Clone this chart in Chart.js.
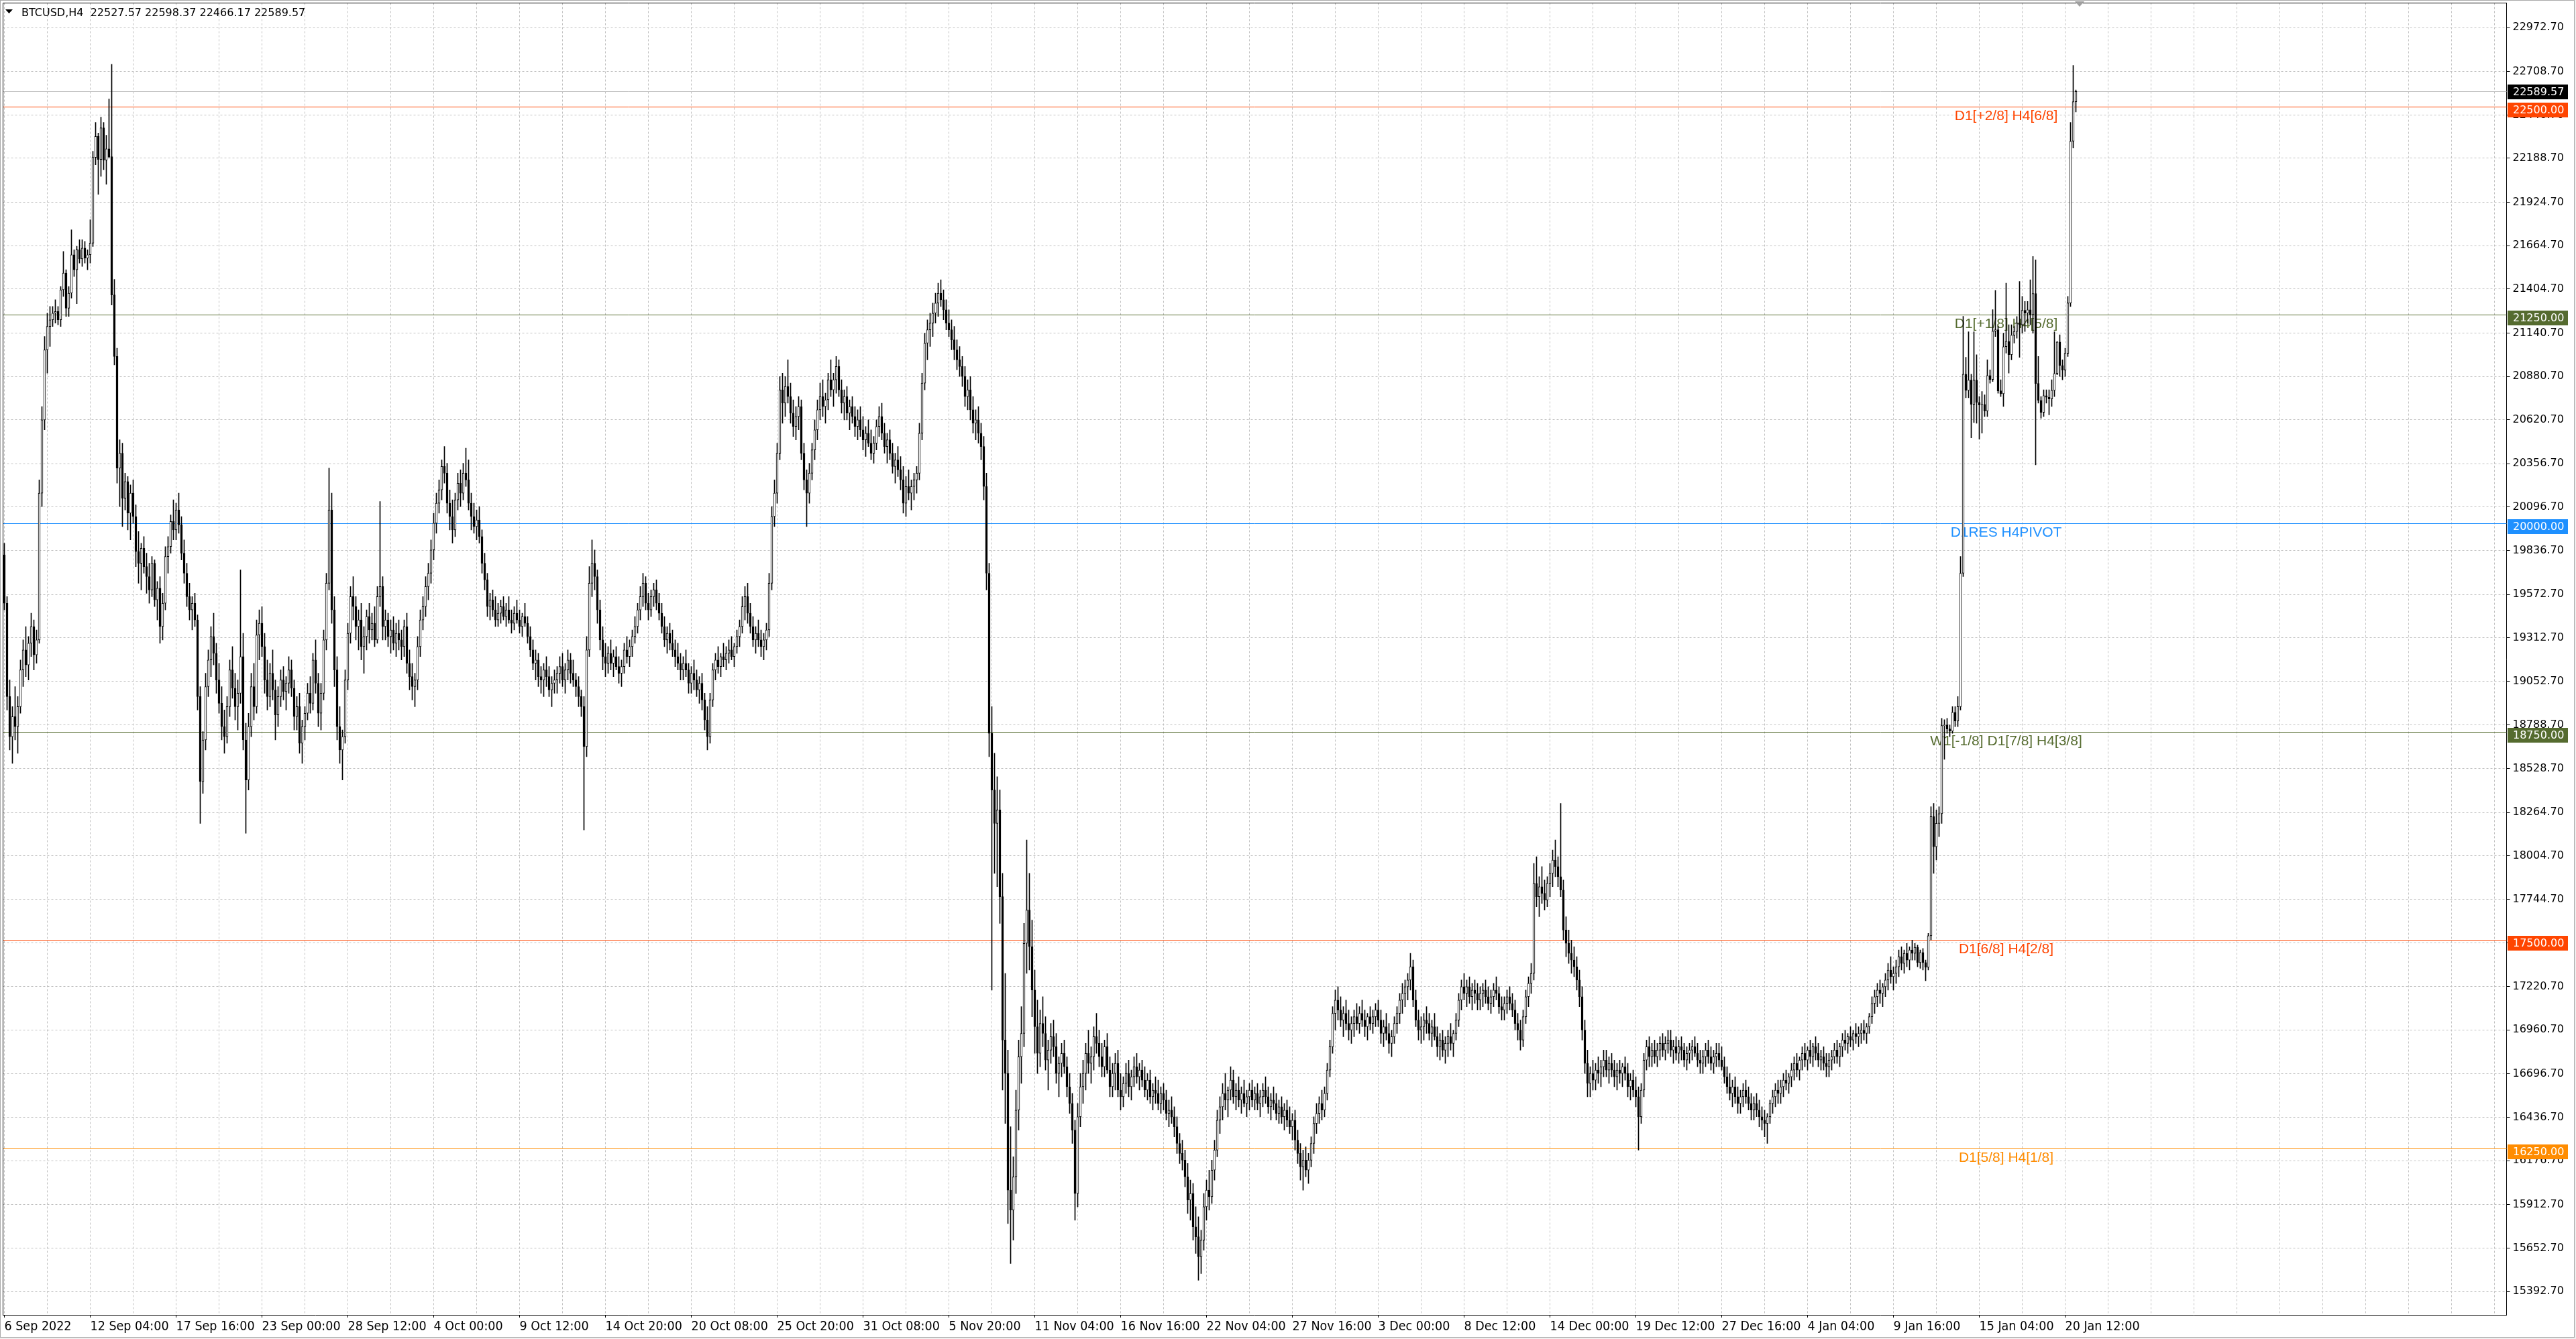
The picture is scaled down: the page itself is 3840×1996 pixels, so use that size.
<!DOCTYPE html>
<html><head><meta charset="utf-8">
<script src="https://cdn.jsdelivr.net/npm/chart.js@4.4.0/dist/chart.umd.min.js"></script>
<style>html,body{margin:0;padding:0;background:#fff;overflow:hidden}canvas{display:block}</style>
</head><body>
<canvas id="c" width="3840" height="1996"></canvas>
<script>
// ---- DATA (BTCUSD H4) ----
const dateLabels = ['6 Sep 2022','12 Sep 04:00','17 Sep 16:00','23 Sep 00:00','28 Sep 12:00','4 Oct 00:00','9 Oct 12:00','14 Oct 20:00','20 Oct 08:00','25 Oct 20:00','31 Oct 08:00','5 Nov 20:00','11 Nov 04:00','16 Nov 16:00','22 Nov 04:00','27 Nov 16:00','3 Dec 00:00','8 Dec 12:00','14 Dec 00:00','19 Dec 12:00','27 Dec 16:00','4 Jan 04:00','9 Jan 16:00','15 Jan 04:00','20 Jan 12:00'];
const priceTicks = [22972.70,22708.70,22448.70,22188.70,21924.70,21664.70,21404.70,21140.70,20880.70,20620.70,20356.70,20096.70,19836.70,19572.70,19312.70,19052.70,18788.70,18528.70,18264.70,18004.70,17744.70,17484.70,17220.70,16960.70,16696.70,16436.70,16176.70,15912.70,15652.70,15392.70];
const levelValues = [22500, 21250, 20000, 18750, 17500, 16250];
const levelTexts = ['D1[+2/8] H4[6/8]','D1[+1/8] H4[5/8]','D1RES H4PIVOT','W1[-1/8] D1[7/8] H4[3/8]','D1[6/8] H4[2/8]','D1[5/8] H4[1/8]'];
const levelColors = ['#ff4500','#556b2f','#1e90ff','#556b2f','#ff4500','#ff8c00'];
const lastBid = 22589.57;
const titleText = 'BTCUSD,H4  22527.57 22598.37 22466.17 22589.57';

const opens = [
19810,19520,18960,18720,18840,18780,18900,19120,19240,19150,
19280,19380,19210,19300,20180,20620,21040,21180,21220,21260,
21270,21220,21400,21500,21290,21380,21610,21520,21640,21585,
21650,21590,21610,21680,22194,22320,22182,22371,22178,22246,
22198,21369,21000,20330,20420,20150,20250,20060,20180,20040,
19830,19760,19850,19740,19680,19600,19760,19540,19610,19380,
19520,19800,19860,20010,19960,20080,19990,19820,19700,19560,
19480,19520,19420,18960,18450,18700,19020,19180,19320,19220,
19060,18920,18780,18720,18900,19120,19010,18900,18980,19200,
18700,18460,18780,19020,18900,19330,19400,19260,19060,18960,
19100,19000,18850,18960,19060,18990,19040,19120,19010,18840,
18900,18680,18780,18860,18980,18920,19180,19040,18860,18980,
19300,19640,20080,19480,19120,18780,18640,18720,19060,19340,
19560,19500,19380,19420,19260,19320,19440,19360,19400,19300,
19560,19620,19380,19420,19320,19360,19280,19340,19300,19260,
19380,19160,19080,19020,19060,19260,19420,19500,19620,19700,
19840,20000,20120,20200,20340,20300,20120,20040,19960,20140,
20240,20180,20300,20260,20120,20040,19980,20020,19920,19760,
19660,19500,19540,19480,19420,19460,19500,19440,19480,19420,
19400,19460,19420,19380,19440,19400,19320,19240,19160,19180,
19080,19060,19120,19080,19000,19040,19060,19100,19140,19060,
19120,19180,19100,19060,19020,18960,18900,18660,19240,19640,
19760,19680,19480,19300,19200,19160,19220,19160,19200,19140,
19100,19140,19240,19200,19260,19320,19380,19480,19560,19640,
19520,19480,19560,19600,19520,19460,19380,19300,19340,19280,
19240,19200,19160,19120,19160,19120,19040,19100,19060,19000,
19040,18940,18820,18720,18940,19120,19180,19140,19200,19180,
19220,19240,19200,19260,19320,19380,19500,19560,19460,19380,
19300,19340,19300,19260,19300,19360,19640,20040,20180,20420,
20800,20720,20820,20760,20660,20580,20640,20700,20420,20260,
20180,20300,20440,20560,20680,20760,20700,20740,20860,20800,
20860,20940,20800,20720,20760,20660,20700,20640,20580,20620,
20560,20500,20540,20480,20420,20480,20580,20640,20540,20460,
20500,20420,20340,20380,20320,20260,20120,20220,20180,20220,
20260,20300,20540,20840,21080,21160,21200,21260,21320,21380,
21340,21280,21200,21160,21100,21040,20980,20940,20880,20760,
20800,20680,20600,20620,20540,20460,20220,19700,18740,18400,
18200,18280,17760,16900,16700,16000,15880,16080,16480,16800,
16940,17480,17680,17460,17200,16980,16820,17000,16940,16780,
16840,16920,16860,16700,16760,16820,16740,16620,16520,16360,
15980,16440,16620,16700,16820,16760,16800,16920,16880,16800,
16740,16860,16720,16620,16700,16760,16600,16560,16640,16700,
16620,16680,16740,16680,16720,16660,16600,16660,16560,16600,
16580,16520,16580,16540,16460,16480,16440,16380,16280,16220,
16180,16080,15940,15980,15780,15720,15600,15700,15900,16000,
15960,16120,16240,16420,16500,16580,16540,16600,16660,16560,
16600,16540,16580,16520,16560,16600,16540,16580,16520,16560,
16600,16560,16500,16540,16520,16460,16500,16440,16480,16420,
16380,16420,16300,16220,16140,16180,16120,16180,16280,16400,
16460,16520,16480,16580,16720,16860,17060,17140,17080,17020,
17060,17000,16960,17000,17040,17000,17060,17020,16980,17040,
17000,17040,17080,17020,16940,16980,16940,16880,16920,17000,
17060,17140,17180,17220,17260,17340,17140,17020,16960,16980,
17020,17000,16940,16980,16920,16860,16900,16840,16880,16920,
16880,16940,17020,17140,17220,17180,17220,17160,17200,17180,
17140,17180,17200,17160,17120,17160,17200,17180,17100,17080,
17120,17160,17120,17080,17000,16960,16900,17040,17160,17240,
17300,17840,17760,17820,17780,17740,17840,17900,17980,17940,
17880,17800,17560,17480,17420,17380,17340,17260,17160,16960,
16760,16640,16700,16660,16720,16700,16740,16780,16720,16760,
16720,16680,16720,16700,16740,16700,16620,16660,16600,16560,
16440,16600,16780,16860,16800,16840,16800,16840,16880,16840,
16880,16900,16840,16860,16820,16860,16840,16780,16820,16840,
16860,16820,16780,16760,16800,16840,16800,16760,16800,16820,
16780,16740,16680,16620,16580,16620,16560,16520,16560,16600,
16560,16520,16480,16520,16480,16440,16420,16400,16440,16520,
16560,16600,16580,16620,16660,16640,16680,16720,16760,16720,
16780,16820,16780,16840,16800,16860,16820,16780,16800,16760,
16740,16780,16800,16840,16800,16860,16900,16880,16920,16900,
16940,16920,16940,16960,16940,16980,17040,17120,17160,17200,
17180,17220,17260,17320,17280,17300,17340,17400,17360,17420,
17380,17440,17420,17457,17365,17425,17365,17337,17526,18240,
18060,18200,18258,18786,18790,18766,18753,18866,18813,18900,
19700,20894,20797,20858,20713,20858,20725,20709,20713,20673,
20886,20862,21152,21160,20794,20777,21059,21091,21011,21128,
21150,21200,21190,21277,21260,21280,21250,21377,20838,20737,
20665,20765,20755,20745,20797,20898,21087,20946,20918,21019,
21321,22291,22527.57];

const highs = [
19880,19560,19060,18900,19020,18960,19180,19300,19380,19320,
19460,19420,19360,20260,20700,21120,21260,21300,21300,21340,
21300,21420,21630,21520,21420,21760,21640,21660,21700,21700,
21690,21640,21820,22230,22403,22340,22436,22403,22327,22544,
22753,21462,21050,20500,20480,20300,20280,20230,20260,20110,
19950,19880,19920,19820,19760,19800,19780,19650,19680,19580,
19860,19920,20050,20140,20120,20180,20040,19900,19760,19640,
19560,19580,19450,19020,18750,19100,19240,19380,19460,19280,
19160,19020,18880,18960,19180,19260,19100,19060,19720,19340,
18800,18860,19100,19160,19420,19480,19500,19340,19180,19160,
19240,19060,19020,19120,19140,19080,19200,19180,19060,18960,
18980,18820,18900,19040,19080,19220,19300,19100,19040,19360,
19700,20330,20180,19560,19200,18900,18760,19120,19400,19620,
19680,19560,19480,19520,19380,19480,19520,19460,19500,19620,
20130,19680,19480,19460,19420,19440,19400,19420,19360,19420,
19460,19240,19160,19100,19320,19480,19560,19680,19760,19900,
20060,20180,20260,20380,20460,20360,20200,20140,20180,20300,
20320,20360,20450,20380,20180,20120,20080,20100,19960,19820,
19700,19580,19600,19560,19520,19540,19560,19520,19560,19480,
19500,19540,19480,19460,19520,19440,19380,19300,19240,19220,
19140,19160,19200,19140,19080,19120,19140,19200,19220,19160,
19240,19220,19180,19100,19080,19000,18960,19320,19740,19900,
19840,19720,19540,19380,19280,19260,19300,19240,19260,19200,
19180,19280,19320,19300,19360,19440,19520,19620,19700,19680,
19580,19600,19640,19660,19580,19520,19440,19380,19400,19360,
19300,19280,19220,19200,19240,19160,19140,19180,19120,19080,
19100,18980,18900,18980,19160,19220,19260,19220,19280,19260,
19300,19320,19280,19360,19420,19560,19620,19640,19520,19440,
19380,19420,19360,19340,19400,19700,20100,20260,20480,20880,
20900,20880,20980,20840,20740,20700,20760,20740,20480,20320,
20360,20480,20620,20740,20840,20860,20780,20900,20980,20900,
21000,20980,20860,20800,20820,20740,20760,20700,20680,20700,
20640,20580,20620,20560,20520,20620,20700,20720,20600,20540,
20560,20480,20420,20460,20400,20340,20280,20320,20260,20300,
20340,20600,20900,21140,21220,21260,21320,21380,21440,21460,
21400,21340,21280,21220,21180,21100,21060,21000,20940,20860,
20880,20760,20680,20700,20600,20520,20300,19760,18900,18620,
18480,18400,17900,17300,16840,16380,16200,16600,16900,17100,
17600,18100,17900,17620,17320,17140,17080,17160,17040,16900,
17000,17020,16940,16800,16880,16900,16800,16700,16580,16420,
16520,16700,16780,16880,16960,16860,16980,17060,16960,16880,
16900,16940,16800,16760,16820,16840,16700,16680,16760,16780,
16720,16800,16820,16760,16780,16740,16700,16720,16640,16680,
16660,16620,16640,16600,16540,16560,16500,16440,16340,16300,
16240,16160,16060,16040,15900,15840,15760,15980,16060,16120,
16180,16300,16480,16560,16640,16700,16620,16740,16720,16640,
16680,16620,16660,16600,16640,16660,16620,16640,16600,16640,
16680,16620,16580,16620,16580,16540,16560,16520,16540,16500,
16460,16480,16360,16280,16240,16260,16220,16320,16440,16520,
16560,16600,16620,16760,16900,17100,17200,17220,17160,17100,
17140,17080,17040,17080,17120,17100,17140,17080,17060,17100,
17080,17120,17140,17080,17020,17060,17000,16960,17040,17100,
17180,17240,17260,17300,17420,17380,17200,17080,17040,17060,
17100,17060,17020,17060,16980,16940,16960,16920,16960,17000,
16960,17060,17180,17260,17300,17260,17280,17240,17260,17240,
17220,17240,17260,17220,17200,17240,17280,17220,17160,17160,
17200,17220,17180,17140,17060,17020,17080,17200,17280,17360,
17960,18000,17880,17940,17860,17880,17960,18040,18100,18000,
18320,17860,17640,17560,17500,17460,17400,17320,17220,17020,
16840,16740,16780,16760,16800,16780,16840,16840,16800,16820,
16780,16760,16780,16760,16800,16760,16700,16720,16680,16620,
16640,16820,16900,16920,16880,16900,16880,16920,16940,16920,
16960,16960,16900,16920,16900,16920,16880,16860,16880,16900,
16920,16880,16840,16840,16880,16900,16860,16840,16880,16880,
16860,16800,16740,16700,16660,16680,16620,16600,16640,16660,
16620,16580,16560,16580,16540,16500,16480,16460,16540,16600,
16640,16660,16660,16700,16720,16700,16760,16800,16820,16800,
16860,16880,16860,16900,16880,16920,16880,16840,16860,16820,
16820,16840,16880,16900,16880,16940,16960,16940,16980,16960,
17000,16980,17000,17020,17000,17060,17160,17200,17240,17260,
17240,17300,17360,17400,17340,17380,17440,17460,17440,17480,
17460,17500,17480,17470,17440,17450,17380,17540,18300,18320,
18280,18300,18830,18822,18830,18790,18900,18900,18960,19800,
21241,20995,21148,20894,21148,21010,20760,20790,20770,20980,
20920,21281,21397,21180,20860,21140,21440,21190,21190,21180,
21240,21450,21360,21330,21330,21460,21600,21580,21000,20760,
20800,20800,20800,20860,21148,21090,21130,20980,21050,21360,
22403,22745,22598.37];

const lows = [
19480,18880,18640,18560,18700,18620,18860,19020,19080,19060,
19200,19120,19160,19280,20100,20560,20900,21060,21180,21200,
21190,21180,21360,21240,21240,21350,21480,21317,21560,21540,
21560,21520,21560,21660,22150,21973,22080,22120,22033,22190,
21309,20950,20240,20100,19980,20080,19960,19900,20000,19740,
19640,19600,19700,19580,19520,19560,19500,19420,19280,19300,
19480,19700,19820,19900,19900,19940,19780,19640,19500,19420,
19360,19380,18880,18200,18380,18640,18960,19080,19150,18980,
18860,18700,18620,18680,18840,18950,18820,18760,18920,18640,
18140,18400,18720,18820,18860,19180,19200,18980,18880,18900,
18940,18700,18780,18900,18940,18880,18980,18960,18760,18760,
18620,18560,18700,18820,18860,18880,18980,18780,18760,18940,
19240,19600,19400,19020,18700,18560,18460,18680,19000,19280,
19420,19300,19240,19180,19100,19240,19280,19300,19260,19280,
19500,19300,19300,19260,19220,19240,19200,19240,19180,19200,
19100,19000,18940,18900,19000,19200,19360,19440,19540,19640,
19780,19940,20060,20140,20240,20060,19960,19880,19920,20080,
20100,20140,20220,20080,19960,19940,19900,19880,19700,19600,
19440,19420,19440,19380,19380,19400,19420,19380,19400,19340,
19360,19400,19340,19320,19380,19280,19200,19120,19060,19020,
18980,18960,19020,18960,18900,18980,18980,19040,19020,18980,
19060,19040,19020,18960,18900,18840,18160,18600,19200,19560,
19600,19400,19240,19120,19080,19100,19120,19080,19120,19040,
19020,19100,19160,19140,19200,19280,19340,19420,19500,19480,
19420,19440,19500,19480,19420,19340,19260,19220,19240,19200,
19140,19120,19060,19060,19080,18980,18980,19000,18960,18920,
18880,18760,18640,18680,18900,19060,19100,19080,19140,19120,
19160,19180,19140,19220,19260,19340,19420,19400,19340,19260,
19220,19260,19200,19180,19240,19320,19600,19980,20120,20380,
20600,20640,20720,20600,20520,20500,20560,20380,20200,19980,
20120,20260,20380,20500,20620,20640,20600,20680,20760,20700,
20780,20760,20660,20620,20620,20560,20600,20520,20500,20520,
20440,20400,20460,20380,20360,20440,20520,20500,20420,20360,
20380,20300,20240,20280,20200,20060,20040,20140,20080,20140,
20180,20260,20500,20800,20980,21060,21120,21200,21240,21300,
21220,21160,21120,21040,20980,20920,20880,20820,20700,20680,
20620,20540,20500,20480,20380,20140,19600,18600,17200,17900,
17820,17600,16600,16400,15800,15560,15700,15980,16360,16640,
16860,17300,17320,17040,16820,16700,16740,16860,16720,16600,
16760,16800,16640,16560,16680,16700,16560,16460,16280,15820,
15900,16380,16520,16600,16700,16640,16720,16820,16740,16680,
16680,16700,16560,16560,16600,16560,16480,16500,16580,16560,
16540,16620,16640,16600,16620,16560,16540,16520,16480,16520,
16480,16460,16480,16420,16380,16400,16320,16220,16160,16120,
16020,15860,15820,15700,15620,15460,15500,15640,15820,15880,
15920,16060,16200,16340,16420,16480,16440,16540,16520,16480,
16500,16460,16500,16440,16480,16500,16480,16480,16440,16500,
16520,16460,16420,16480,16420,16400,16400,16360,16380,16340,
16300,16240,16160,16060,16000,16080,16040,16140,16220,16340,
16400,16420,16440,16540,16680,16820,16960,17020,16980,16920,
16960,16900,16880,16920,16960,16940,16980,16920,16900,16960,
16940,16980,16980,16880,16860,16900,16820,16800,16880,16940,
17000,17060,17100,17140,17200,17100,16980,16900,16880,16900,
16940,16900,16860,16900,16800,16780,16800,16760,16800,16840,
16800,16900,16980,17080,17140,17100,17120,17080,17120,17080,
17080,17100,17120,17080,17060,17100,17140,17060,17020,17020,
17060,17080,17040,16960,16900,16840,16860,17000,17100,17180,
17260,17700,17640,17720,17680,17700,17760,17820,17880,17820,
17760,17500,17400,17360,17300,17280,17200,17100,16900,16700,
16560,16560,16600,16600,16640,16620,16680,16680,16640,16680,
16620,16600,16640,16620,16660,16560,16540,16560,16500,16240,
16400,16560,16720,16740,16740,16760,16740,16780,16800,16780,
16820,16800,16760,16780,16760,16780,16740,16720,16760,16780,
16800,16740,16700,16700,16740,16760,16720,16700,16740,16740,
16720,16640,16580,16540,16500,16520,16460,16460,16500,16520,
16480,16420,16420,16440,16380,16360,16320,16280,16400,16460,
16500,16520,16520,16560,16600,16580,16620,16660,16680,16660,
16720,16740,16720,16760,16740,16780,16740,16720,16720,16680,
16680,16720,16760,16760,16740,16800,16840,16820,16860,16840,
16880,16860,16880,16900,16880,16940,17000,17060,17100,17120,
17100,17160,17200,17240,17200,17240,17280,17320,17300,17340,
17320,17380,17380,17340,17330,17320,17256,17320,17500,17900,
17980,18120,18200,18584,18740,18720,18740,18780,18780,18880,
19680,20752,20752,20512,20604,20600,20504,20540,20640,20640,
20840,20850,21120,20780,20760,20700,21020,20900,20980,21080,
21110,20995,21140,21150,21200,21190,21140,20350,20720,20630,
20640,20720,20650,20700,20760,20890,20880,20860,20880,21000,
21300,22250,22466.17];

const closes = [
19520,18960,18720,18840,18780,18900,19120,19240,19150,19280,
19380,19210,19300,20180,20620,21040,21180,21220,21260,21270,
21220,21400,21500,21290,21380,21610,21520,21640,21585,21650,
21590,21610,21680,22194,22320,22182,22371,22178,22246,22198,
21369,21000,20330,20420,20150,20250,20060,20180,20040,19830,
19760,19850,19740,19680,19600,19760,19540,19610,19380,19520,
19800,19860,20010,19960,20080,19990,19820,19700,19560,19480,
19520,19420,18960,18450,18700,19020,19180,19320,19220,19060,
18920,18780,18720,18900,19120,19010,18900,18980,19200,18700,
18460,18780,19020,18900,19330,19400,19260,19060,18960,19100,
19000,18850,18960,19060,18990,19040,19120,19010,18840,18900,
18680,18780,18860,18980,18920,19180,19040,18860,18980,19300,
19640,20080,19480,19120,18780,18640,18720,19060,19340,19560,
19500,19380,19420,19260,19320,19440,19360,19400,19300,19560,
19620,19380,19420,19320,19360,19280,19340,19300,19260,19380,
19160,19080,19020,19060,19260,19420,19500,19620,19700,19840,
20000,20120,20200,20340,20300,20120,20040,19960,20140,20240,
20180,20300,20260,20120,20040,19980,20020,19920,19760,19660,
19500,19540,19480,19420,19460,19500,19440,19480,19420,19400,
19460,19420,19380,19440,19400,19320,19240,19160,19180,19080,
19060,19120,19080,19000,19040,19060,19100,19140,19060,19120,
19180,19100,19060,19020,18960,18900,18660,19240,19640,19760,
19680,19480,19300,19200,19160,19220,19160,19200,19140,19100,
19140,19240,19200,19260,19320,19380,19480,19560,19640,19520,
19480,19560,19600,19520,19460,19380,19300,19340,19280,19240,
19200,19160,19120,19160,19120,19040,19100,19060,19000,19040,
18940,18820,18720,18940,19120,19180,19140,19200,19180,19220,
19240,19200,19260,19320,19380,19500,19560,19460,19380,19300,
19340,19300,19260,19300,19360,19640,20040,20180,20420,20800,
20720,20820,20760,20660,20580,20640,20700,20420,20260,20180,
20300,20440,20560,20680,20760,20700,20740,20860,20800,20860,
20940,20800,20720,20760,20660,20700,20640,20580,20620,20560,
20500,20540,20480,20420,20480,20580,20640,20540,20460,20500,
20420,20340,20380,20320,20260,20120,20220,20180,20220,20260,
20300,20540,20840,21080,21160,21200,21260,21320,21380,21340,
21280,21200,21160,21100,21040,20980,20940,20880,20760,20800,
20680,20600,20620,20540,20460,20220,19700,18740,18400,18200,
18280,17760,16900,16700,16000,15880,16080,16480,16800,16940,
17480,17680,17460,17200,16980,16820,17000,16940,16780,16840,
16920,16860,16700,16760,16820,16740,16620,16520,16360,15980,
16440,16620,16700,16820,16760,16800,16920,16880,16800,16740,
16860,16720,16620,16700,16760,16600,16560,16640,16700,16620,
16680,16740,16680,16720,16660,16600,16660,16560,16600,16580,
16520,16580,16540,16460,16480,16440,16380,16280,16220,16180,
16080,15940,15980,15780,15720,15600,15700,15900,16000,15960,
16120,16240,16420,16500,16580,16540,16600,16660,16560,16600,
16540,16580,16520,16560,16600,16540,16580,16520,16560,16600,
16560,16500,16540,16520,16460,16500,16440,16480,16420,16380,
16420,16300,16220,16140,16180,16120,16180,16280,16400,16460,
16520,16480,16580,16720,16860,17060,17140,17080,17020,17060,
17000,16960,17000,17040,17000,17060,17020,16980,17040,17000,
17040,17080,17020,16940,16980,16940,16880,16920,17000,17060,
17140,17180,17220,17260,17340,17140,17020,16960,16980,17020,
17000,16940,16980,16920,16860,16900,16840,16880,16920,16880,
16940,17020,17140,17220,17180,17220,17160,17200,17180,17140,
17180,17200,17160,17120,17160,17200,17180,17100,17080,17120,
17160,17120,17080,17000,16960,16900,17040,17160,17240,17300,
17840,17760,17820,17780,17740,17840,17900,17980,17940,17880,
17800,17560,17480,17420,17380,17340,17260,17160,16960,16760,
16640,16700,16660,16720,16700,16740,16780,16720,16760,16720,
16680,16720,16700,16740,16700,16620,16660,16600,16560,16440,
16600,16780,16860,16800,16840,16800,16840,16880,16840,16880,
16900,16840,16860,16820,16860,16840,16780,16820,16840,16860,
16820,16780,16760,16800,16840,16800,16760,16800,16820,16780,
16740,16680,16620,16580,16620,16560,16520,16560,16600,16560,
16520,16480,16520,16480,16440,16420,16400,16440,16520,16560,
16600,16580,16620,16660,16640,16680,16720,16760,16720,16780,
16820,16780,16840,16800,16860,16820,16780,16800,16760,16740,
16780,16800,16840,16800,16860,16900,16880,16920,16900,16940,
16920,16940,16960,16940,16980,17040,17120,17160,17200,17180,
17220,17260,17320,17280,17300,17340,17400,17360,17420,17380,
17440,17420,17457,17365,17425,17365,17337,17526,18240,18060,
18200,18258,18786,18790,18766,18753,18866,18813,18900,19700,
20894,20797,20858,20713,20858,20725,20709,20713,20673,20886,
20862,21152,21160,20794,20777,21059,21091,21011,21128,21150,
21200,21190,21277,21260,21280,21250,21377,20838,20737,20665,
20765,20755,20745,20797,20898,21087,20946,20918,21019,21321,
22291,22528,22589.57];

// ---- CHART ----
const W = 3840, H = 1996;
const SLOTS = 933;               // bar slots across the plot (right part is the chart shift)
const slots = Array.from({length: SLOTS}, (_, i) => i);
const bodyData = opens.map((o, i) => [o, closes[i]]);
const wickData = lows.map((l, i) => [l, highs[i]]);
const bodyFill = opens.map((o, i) => closes[i] >= o ? '#ffffff' : '#000000');
const LABEL_STEP = 32, GRID_STEP = 16;
const isLabeled = v => v % LABEL_STEP === 0 && v / LABEL_STEP < dateLabels.length;
const GRID = '#c0c0c0';

const deco = {
  id: 'deco',
  beforeDraw(chart) {
    const c = chart.ctx;
    c.save();
    c.fillStyle = '#ffffff'; c.fillRect(0, 0, W, H);
    c.fillStyle = '#f0f0f0'; c.fillRect(0, 1994, W, H - 1994); c.fillRect(3838, 0, W - 3838, H);
    c.strokeStyle = '#a9a9a9'; c.lineWidth = 1;
    c.strokeRect(0.5, 0.5, 3837, 1993);
    c.restore();
  },
  beforeDatasetsDraw(chart) {
    const {ctx: c, chartArea: a, scales: {x, y}} = chart;
    c.save();
    c.lineWidth = 1;
    const by = Math.round(y.getPixelForValue(lastBid)) + 0.5;
    c.strokeStyle = '#c0c0c0';
    c.beginPath(); c.moveTo(a.left, by); c.lineTo(a.right, by); c.stroke();
    const tx = x.getPixelForValue(746);
    levelValues.forEach((v, i) => {
      const py = Math.round(y.getPixelForValue(v)) + 0.5;
      c.strokeStyle = levelColors[i];
      c.beginPath(); c.moveTo(a.left, py); c.lineTo(a.right, py); c.stroke();
      c.fillStyle = levelColors[i];
      c.font = '21px "Liberation Sans", Arial, sans-serif';
      c.textAlign = 'center'; c.textBaseline = 'alphabetic';
      c.fillText(levelTexts[i], tx, py + 19);
    });
    c.restore();
  },
  afterDraw(chart) {
    const {ctx: c, chartArea: a, scales: {y}} = chart;
    c.save();
    // plot frame (left / top)
    c.strokeStyle = '#000'; c.lineWidth = 1;
    c.beginPath(); c.moveTo(a.left, a.bottom); c.lineTo(a.left, a.top); c.lineTo(a.right, a.top); c.stroke();
    // price boxes on the right axis (level boxes sit a little below their line, as in the terminal)
    const boxes = [[lastBid, '#000000', 1]].concat(levelValues.map((v, i) => [v, levelColors[i], 5]));
    c.font = '16px "DejaVu Sans", sans-serif';
    c.textAlign = 'left'; c.textBaseline = 'middle';
    boxes.forEach(([v, col, dy]) => {
      const py = Math.round(y.getPixelForValue(v)) + dy;
      c.fillStyle = col;
      c.fillRect(Math.round(a.right) + 1, py - 11, 90, 22);
      c.fillStyle = '#ffffff';
      c.fillText(v.toFixed(2), 3746, py + 1);
    });
    // title
    c.fillStyle = '#000';
    c.beginPath(); c.moveTo(8, 14); c.lineTo(19, 14); c.lineTo(13.5, 20); c.closePath(); c.fill();
    c.font = '16px "DejaVu Sans", sans-serif';
    c.textBaseline = 'alphabetic';
    c.fillText(titleText, 32, 24);
    // chart shift marker
    c.fillStyle = '#a0a0a0';
    c.beginPath(); c.moveTo(3093, 2); c.lineTo(3107, 2); c.lineTo(3100, 10); c.closePath(); c.fill();
    c.restore();
  }
};

new Chart(document.getElementById('c'), {
  type: 'bar',
  data: {
    labels: slots,
    datasets: [
      { data: bodyData, backgroundColor: bodyFill, borderColor: '#000000', borderWidth: 1,
        borderSkipped: false, barThickness: 3, minBarLength: 1, grouped: false },
      { data: wickData, backgroundColor: '#000000', borderWidth: 0, barThickness: 1, grouped: false }
    ]
  },
  options: {
    responsive: false, animation: false, devicePixelRatio: 1, events: [],
    layout: { padding: { left: 4.5, top: 4.5, right: 0, bottom: 0 } },
    plugins: { legend: { display: false }, tooltip: { enabled: false } },
    scales: {
      x: {
        type: 'category', offset: true,
        grid: { offset: false, color: GRID, lineWidth: 1, drawTicks: true, tickLength: 4, tickWidth: 1,
                tickColor: ctx => (ctx.tick && isLabeled(ctx.tick.value)) ? '#000000' : 'rgba(0,0,0,0)' },
        border: { display: true, color: '#000000', width: 1, dash: [3, 3] },
        ticks: { autoSkip: false, maxRotation: 0, minRotation: 0, align: 'start', padding: 2, color: '#000000',
                 font: { family: "'Liberation Sans Narrow', 'DejaVu Sans Condensed', sans-serif", size: 19.5 },
                 callback: v => isLabeled(v) ? dateLabels[v / LABEL_STEP] : '' },
        afterBuildTicks: s => { s.ticks = s.ticks.filter(t => t.value % GRID_STEP === 0); },
        afterFit: s => { s.height = 36; s.paddingLeft = 0; s.paddingRight = 0; }
      },
      y: {
        type: 'linear', position: 'right', min: 15252, max: 23120,
        grid: { color: GRID, lineWidth: 1, drawTicks: true, tickLength: 5, tickColor: '#000000' },
        border: { display: true, color: '#000000', width: 1, dash: [3, 3] },
        ticks: { padding: 4, color: '#000000', font: { family: "'DejaVu Sans', sans-serif", size: 16 },
                 callback: v => Number(v).toFixed(2) },
        afterBuildTicks: s => { s.ticks = priceTicks.map(v => ({ value: v })); },
        afterFit: s => { s.width = 103.5; s.paddingTop = 0; s.paddingBottom = 0; }
      }
    }
  },
  plugins: [deco]
});
</script>
</body></html>
